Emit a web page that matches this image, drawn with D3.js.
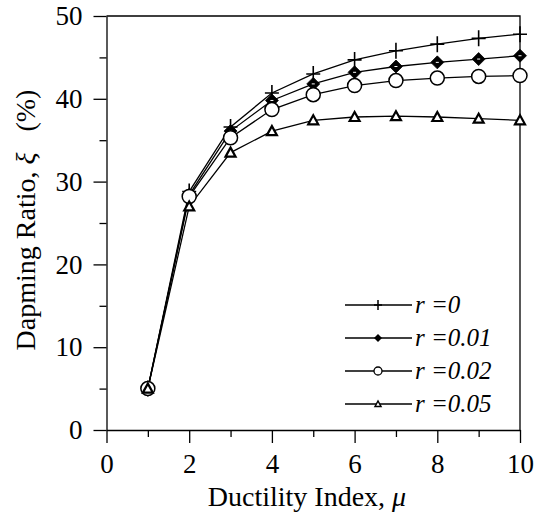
<!DOCTYPE html>
<html lang="en">
<head>
  <meta charset="UTF-8" />
  <title>Damping Ratio vs Ductility Index</title>
  <style>
    body { margin: 0; background: #fff; }
    svg { display: block; }
    text { font-family: "Liberation Serif", "Times New Roman", serif; fill: #000; }
    .axis path, .axis line { stroke: #000; stroke-width: 1.3; }
    .axis text { font-size: 27px; }
    .lbl { font-size: 28px; }
    .leg { font-size: 25px; font-style: italic; }
  </style>
</head>
<body>
<svg id="chart" width="539" height="515"></svg>

<script src="https://d3js.org/d3.v7.min.js"></script>
<script>
  // ductility index values
  const mu = [1, 2, 3, 4, 5, 6, 7, 8, 9, 10];
  // damping ratio (%) for each r
  const r0    = [5.0, 28.8, 36.6, 40.7, 43.0, 44.7, 45.8, 46.6, 47.3, 47.8];
  const r001  = [5.0, 28.4, 36.1, 39.8, 41.8, 43.2, 43.9, 44.4, 44.8, 45.2];
  const r002  = [5.0, 28.2, 35.3, 38.7, 40.5, 41.6, 42.2, 42.5, 42.7, 42.8];
  const r005  = [5.0, 27.0, 33.5, 36.1, 37.4, 37.8, 37.9, 37.8, 37.6, 37.4];
  const seriesNames = ["r =0", "r =0.01", "r =0.02", "r =0.05"];
  const markers = ["plus", "diamond", "circle", "triangle"];
  const xTicks = [0, 2, 4, 6, 8, 10];
  const yTicks = [0, 10, 20, 30, 40, 50];

  const series = [r0, r001, r002, r005].map((v, i) => ({
    name: seriesNames[i],
    marker: markers[i],
    values: v.map((d, j) => ({ x: mu[j], y: d }))
  }));

  const svg = d3.select("#chart");
  const x = d3.scaleLinear().domain([0, 10]).range([106.5, 520]);
  const y = d3.scaleLinear().domain([0, 50]).range([430, 16]);

  // minor ticks
  svg.append("g").attr("class", "axis")
    .attr("transform", `translate(0,${y(0)})`)
    .call(d3.axisBottom(x).tickValues(d3.range(1, 10, 2)).tickSize(7).tickFormat(""))
    .select(".domain").remove();
  svg.append("g").attr("class", "axis")
    .attr("transform", `translate(${x(0)},0)`)
    .call(d3.axisLeft(y).tickValues(d3.range(5, 50, 10)).tickSize(7).tickFormat(""))
    .select(".domain").remove();

  // major ticks
  svg.append("g").attr("class", "axis")
    .attr("transform", `translate(0,${y(0)})`)
    .call(d3.axisBottom(x).tickValues(xTicks).tickSize(13).tickSizeOuter(0).tickPadding(11));
  svg.append("g").attr("class", "axis")
    .attr("transform", `translate(${x(0)},0)`)
    .call(d3.axisLeft(y).tickValues(yTicks).tickSize(13).tickSizeOuter(0).tickPadding(11));

  svg.selectAll(".axis").attr("font-family", null).attr("font-size", null);

  // frame top + right
  svg.append("path")
    .attr("d", `M${x(0)},${y(50)}H${x(10)}V${y(0)}`)
    .attr("fill", "none").attr("stroke", "#000").attr("stroke-width", 1.3);

  // axis titles
  const xl = svg.append("text").attr("class", "lbl")
    .attr("x", 307).attr("y", 506).attr("text-anchor", "middle");
  xl.append("tspan").text("Ductility Index, ");
  xl.append("tspan").attr("font-style", "italic").text("\u03bc");

  const yl = svg.append("text").attr("class", "lbl")
    .attr("transform", `translate(35,220) rotate(-90)`)
    .attr("text-anchor", "middle");
  yl.append("tspan").text("Dapming Ratio, ");
  yl.append("tspan").attr("font-style", "italic").text("\u03be");
  yl.append("tspan").text("\u00a0\u00a0\u00a0(%)");

  const line = d3.line().x(d => x(d.x)).y(d => y(d.y));

  function drawMarker(g, type) {
    if (type === "plus") {
      g.append("path").attr("d", "M-7,0H7M0,-8V8")
        .attr("stroke", "#000").attr("stroke-width", 1.6).attr("fill", "none");
    } else if (type === "diamond") {
      g.append("path").attr("d", "M0,-6.5L6.5,0L0,6.5L-6.5,0Z")
        .attr("fill", "#000").attr("stroke", "#000").attr("stroke-width", 0.8);
      g.append("path").attr("d", "M-1.5,0H1.5").attr("stroke", "#fff").attr("stroke-width", 1);
    } else if (type === "circle") {
      g.append("circle").attr("r", 7)
        .attr("fill", "#fff").attr("stroke", "#000").attr("stroke-width", 1.5);
    } else {
      g.append("path").attr("d", "M-5,4L0,-5L5,4Z")
        .attr("fill", "#fff").attr("stroke", "#000").attr("stroke-width", 2.2);
    }
  }

  series.forEach(s => {
    svg.append("path").datum(s.values)
      .attr("d", line).attr("fill", "none")
      .attr("stroke", "#000").attr("stroke-width", 1.3);
  });
  series.forEach(s => {
    svg.append("g").selectAll("g")
      .data(s.values).enter().append("g")
      .attr("transform", d => `translate(${x(d.x)},${y(d.y)})`)
      .each(function () { drawMarker(d3.select(this), s.marker); });
  });

  // legend
  const legY = [305, 338, 371, 404];
  series.forEach((s, i) => {
    const g = svg.append("g").attr("transform", `translate(0,${legY[i]})`);
    g.append("line").attr("x1", 345).attr("x2", 412)
      .attr("stroke", "#000").attr("stroke-width", 1.3);
    const m = g.append("g").attr("transform", "translate(378,0)");
    if (s.marker === "plus") {
      m.append("path").attr("d", "M-4,0H4M0,-5V5").attr("stroke", "#000").attr("stroke-width", 1.5);
    } else if (s.marker === "diamond") {
      m.append("path").attr("d", "M0,-4L4,0L0,4L-4,0Z").attr("fill", "#000");
    } else if (s.marker === "circle") {
      m.append("circle").attr("r", 4).attr("fill", "#fff").attr("stroke", "#000").attr("stroke-width", 1.3);
    } else {
      m.append("path").attr("d", "M-3,2.5L0,-3L3,2.5Z").attr("fill", "#fff").attr("stroke", "#000").attr("stroke-width", 1.5);
    }
    g.append("text").attr("class", "leg").attr("x", 415).attr("y", 8).text(s.name);
  });
</script>
</body>
</html>
